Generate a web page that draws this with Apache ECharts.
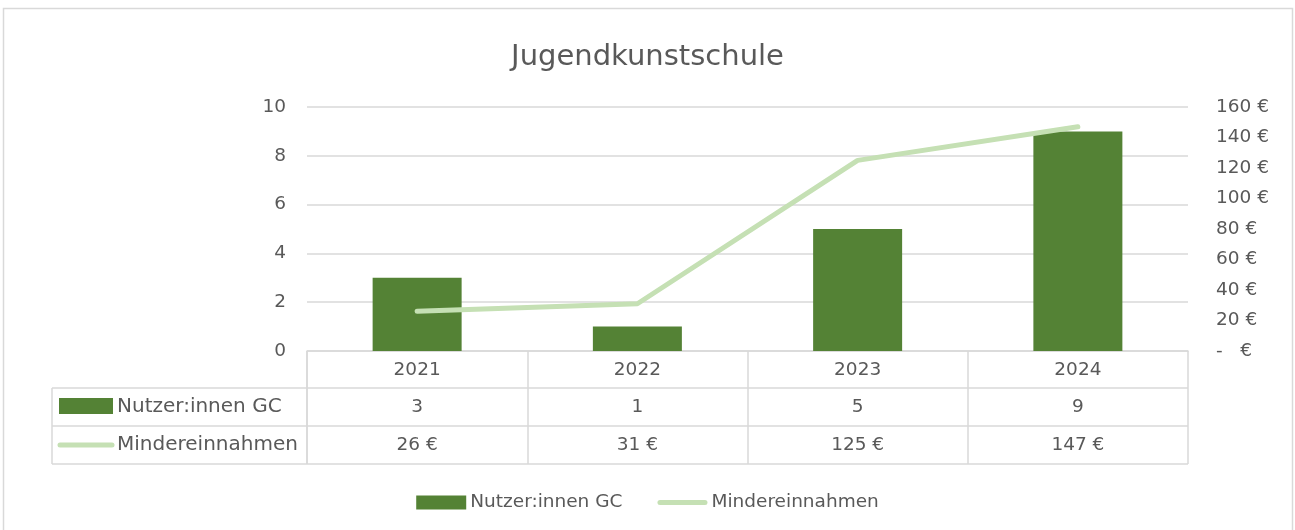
<!DOCTYPE html>
<html><head><meta charset="utf-8">
<script src="https://cdn.jsdelivr.net/npm/echarts@6/dist/echarts.min.js"></script>
<style>html,body{margin:0;padding:0;background:#fff}#c{width:1295px;height:530px}</style>
</head><body><div id="c"></div>
<script>
const categories = ['2021', '2022', '2023', '2024'];
const users = [3, 1, 5, 9];
const revenue = [26, 31, 125, 147];
const seriesNames = ['Nutzer:innen GC', 'Mindereinnahmen'];
const titleText = 'Jugendkunstschule';

const FONT = '"DejaVu Sans"';
const TXT = '#595959';
const GRID = '#d9d9d9';
const BAR = '#548235';
const LINE = '#c5e0b4';

const chart = echarts.init(document.getElementById('c'), null, {renderer: 'canvas'});
const euro = v => v === 0 ? '-   €' : v + ' €';

chart.setOption({
  animation: false,
  textStyle: {fontFamily: FONT},
  title: {text: titleText, left: 'center', top: 38,
    textStyle: {fontFamily: FONT, fontSize: 29, fontWeight: 'normal', color: TXT}},
  grid: {left: 307, right: 107, top: 107, bottom: 179},
  legend: {
    top: 488, left: 'center', itemWidth: 50, itemHeight: 14, itemGap: 35,
    textStyle: {fontFamily: FONT, fontSize: 18.5, color: TXT, padding: [0, 0, 0, -1]},
    data: [
      {name: seriesNames[0], icon: 'rect'},
      {name: seriesNames[1], icon: 'path://M2.5,0 L47.5,0 A2.5,2.5 0 0 1 47.5,5 L2.5,5 A2.5,2.5 0 0 1 2.5,0 Z'}
    ]
  },
  xAxis: {
    type: 'category', data: categories,
    axisLine: {lineStyle: {color: GRID, width: 1.5}},
    axisTick: {show: true, length: 113, interval: 0, lineStyle: {color: GRID, width: 1.5}},
    axisLabel: {margin: 10, fontSize: 18.5, color: TXT, fontFamily: FONT}
  },
  yAxis: [{
    type: 'value', min: 0, max: 10, interval: 2,
    axisLine: {show: false}, axisTick: {show: false},
    splitLine: {lineStyle: {color: GRID, width: 1.5}},
    axisLabel: {margin: 21, fontSize: 18.5, color: TXT, fontFamily: FONT}
  }, {
    type: 'value', min: 0, max: 160, interval: 20,
    axisLine: {show: false}, axisTick: {show: false}, splitLine: {show: false},
    axisLabel: {margin: 28, fontSize: 18.5, color: TXT, fontFamily: FONT, align: 'left', formatter: euro}
  }],
  series: [{
    name: seriesNames[0], type: 'bar', data: users, barWidth: 89,
    itemStyle: {color: BAR}, z: 2
  }, {
    name: seriesNames[1], type: 'line', yAxisIndex: 1, data: revenue,
    symbol: 'none', showSymbol: false, lineStyle: {color: LINE, width: 5, cap: 'round', join: 'round'},
    itemStyle: {color: LINE}, z: 3
  }]
});

// data table drawn under the plot, positioned from the axis scale
function buildTable() {
  const grid = chart.getModel().getComponent('grid', 0).coordinateSystem.getRect();
  const axisY = grid.y + grid.height;
  const rowH = 38;
  const r1 = axisY + 37, r2 = r1 + rowH, r3 = r2 + rowH;
  const tableLeft = 52;
  const right = grid.x + grid.width;
  const els = [];
  const line = (x1, y1, x2, y2) => els.push({type: 'line', shape: {x1, y1, x2, y2}, style: {stroke: GRID, lineWidth: 1.5}, silent: true});
  line(tableLeft, r1, right, r1);
  line(tableLeft, r2, right, r2);
  line(tableLeft, r3, right, r3);
  line(tableLeft, r1, tableLeft, r3);
  line(grid.x, axisY, grid.x, r3);
  const rows = [[users, v => String(v)], [revenue, v => v + ' €']];
  rows.forEach((row, ri) => {
    const cy = (ri === 0 ? r1 : r2) + rowH / 2;
    row[0].forEach((v, i) => {
      const px = chart.convertToPixel({xAxisIndex: 0}, categories[i]);
      els.push({type: 'text', x: px, y: cy, silent: true,
        style: {text: row[1](v), fontFamily: FONT, fontSize: 18.5, fill: TXT, align: 'center', verticalAlign: 'middle'}});
    });
  });
  // row headers
  els.push({type: 'rect', shape: {x: 59, y: r1 + 10, width: 54, height: 16}, style: {fill: BAR}, silent: true});
  els.push({type: 'line', shape: {x1: 60, y1: r2 + rowH / 2, x2: 112, y2: r2 + rowH / 2},
    style: {stroke: LINE, lineWidth: 5, lineCap: 'round'}, silent: true});
  els.push({type: 'text', x: 117, y: r1 + rowH / 2, silent: true,
    style: {text: seriesNames[0], fontFamily: FONT, fontSize: 20, fill: TXT, align: 'left', verticalAlign: 'middle'}});
  els.push({type: 'text', x: 117, y: r2 + rowH / 2, silent: true,
    style: {text: seriesNames[1], fontFamily: FONT, fontSize: 20, fill: TXT, align: 'left', verticalAlign: 'middle'}});
  // outer chart border
  els.push({type: 'rect', shape: {x: 3.5, y: 8.5, width: 1289, height: 540}, style: {fill: 'none', stroke: GRID, lineWidth: 1.5}, silent: true, z: -1});
  chart.setOption({graphic: els});
}
buildTable();
</script>
</body></html>
